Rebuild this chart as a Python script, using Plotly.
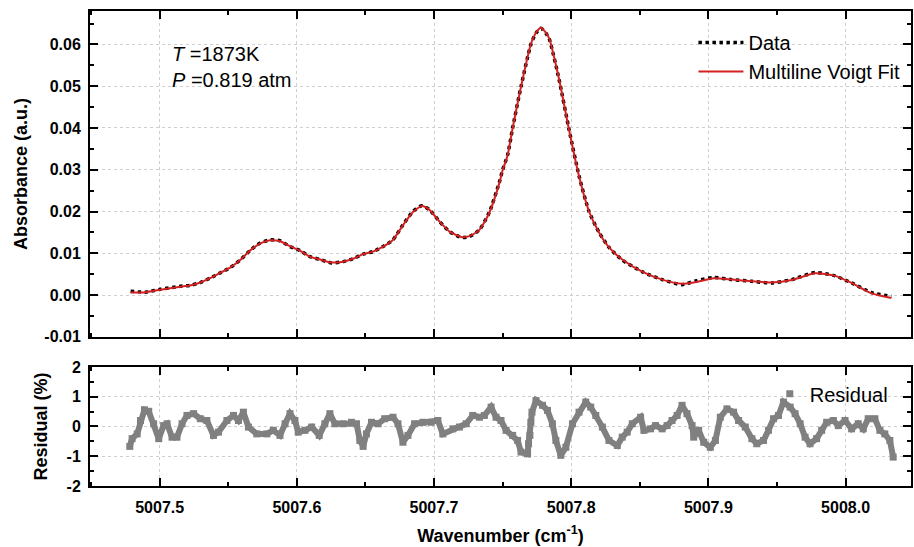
import plotly.graph_objects as go

# ---------------- data ----------------
wavenumber = [5007.4788, 5007.4896, 5007.5005, 5007.5150, 5007.5220, 5007.5296, 5007.5370,
              5007.5440, 5007.5510, 5007.5587, 5007.5660, 5007.5730, 5007.5804, 5007.5877,
              5007.5950, 5007.6020, 5007.6095, 5007.6170, 5007.6253, 5007.6337, 5007.6410,
              5007.6483, 5007.6555, 5007.6628, 5007.6700, 5007.6773, 5007.6846, 5007.6911,
              5007.6967, 5007.7040, 5007.7113, 5007.7198, 5007.7258, 5007.7330, 5007.7403,
              5007.7476, 5007.7500, 5007.7536, 5007.7573, 5007.7634, 5007.7706, 5007.7743,
              5007.7779, 5007.7815, 5007.7840, 5007.7912, 5007.7985, 5007.8058, 5007.8130,
              5007.8203, 5007.8276, 5007.8372, 5007.8517, 5007.8663, 5007.8808, 5007.8906,
              5007.9038, 5007.9172, 5007.9317, 5007.9462, 5007.9608, 5007.9778, 5007.9923,
              5008.0044, 5008.0190, 5008.0334]
absorbance_data = [0.0009, 0.0007, 0.0014, 0.0021, 0.0023, 0.0030, 0.0041,
                   0.0053, 0.0065, 0.0084, 0.0107, 0.0124, 0.0132, 0.0130,
                   0.0116, 0.0107, 0.0092, 0.0085, 0.0077, 0.0080, 0.0087,
                   0.0098, 0.0104, 0.0116, 0.0132, 0.0168, 0.0200, 0.0214,
                   0.0204, 0.0176, 0.0152, 0.0138, 0.0140, 0.0156, 0.0198,
                   0.0270, 0.0300, 0.0335, 0.0400, 0.0499, 0.0600, 0.0627,
                   0.0639, 0.0627, 0.0613, 0.0515, 0.0395, 0.0284, 0.0200,
                   0.0150, 0.0114, 0.0084, 0.0056, 0.0037, 0.0025, 0.0034,
                   0.0042, 0.0037, 0.0033, 0.0029, 0.0037, 0.0054, 0.0046,
                   0.0029, 0.0006, -0.0003]
absorbance_fit = [0.0006, 0.0007, 0.0013, 0.0020, 0.0023, 0.0030, 0.0041,
                  0.0053, 0.0065, 0.0084, 0.0107, 0.0123, 0.0131, 0.0129,
                  0.0117, 0.0107, 0.0092, 0.0085, 0.0078, 0.0080, 0.0087,
                  0.0098, 0.0104, 0.0116, 0.0132, 0.0167, 0.0199, 0.0213,
                  0.0204, 0.0176, 0.0152, 0.0139, 0.0141, 0.0156, 0.0197,
                  0.0268, 0.0299, 0.0334, 0.0400, 0.0499, 0.0601, 0.0628,
                  0.0640, 0.0628, 0.0614, 0.0516, 0.0394, 0.0283, 0.0200,
                  0.0150, 0.0114, 0.0085, 0.0056, 0.0037, 0.0027, 0.0031,
                  0.0040, 0.0037, 0.0033, 0.0030, 0.0036, 0.0052, 0.0046,
                  0.0029, 0.0004, -0.0007]

res_wavenumber = [5007.4782, 5007.4799, 5007.4836, 5007.4860, 5007.4889, 5007.4920, 5007.4956,
                  5007.4993, 5007.5029, 5007.5054, 5007.5090, 5007.5126, 5007.5163, 5007.5199,
                  5007.5247, 5007.5296, 5007.5344, 5007.5392, 5007.5429, 5007.5490, 5007.5538,
                  5007.5574, 5007.5610, 5007.5647, 5007.5708, 5007.5781, 5007.5828, 5007.5877,
                  5007.5914, 5007.5950, 5007.5986, 5007.6010, 5007.6059, 5007.6108, 5007.6163,
                  5007.6204, 5007.6241, 5007.6277, 5007.6337, 5007.6398, 5007.6435, 5007.6459,
                  5007.6483, 5007.6507, 5007.6544, 5007.6592, 5007.6640, 5007.6701, 5007.6737,
                  5007.6773, 5007.6810, 5007.6858, 5007.6919, 5007.6980, 5007.7028, 5007.7064,
                  5007.7137, 5007.7185, 5007.7234, 5007.7282, 5007.7331, 5007.7367, 5007.7416,
                  5007.7452, 5007.7488, 5007.7525, 5007.7573, 5007.7609, 5007.7634, 5007.7682,
                  5007.7689, 5007.7699, 5007.7706, 5007.7714, 5007.7743, 5007.7791, 5007.7827,
                  5007.7863, 5007.7888, 5007.7924, 5007.7961, 5007.8009, 5007.8057, 5007.8106,
                  5007.8142, 5007.8179, 5007.8227, 5007.8275, 5007.8336, 5007.8372, 5007.8408,
                  5007.8445, 5007.8506, 5007.8530, 5007.8578, 5007.8615, 5007.8663, 5007.8699,
                  5007.8735, 5007.8772, 5007.8808, 5007.8844, 5007.8881, 5007.8893, 5007.8929,
                  5007.8966, 5007.9014, 5007.9051, 5007.9087, 5007.9135, 5007.9184, 5007.9220,
                  5007.9269, 5007.9317, 5007.9353, 5007.9402, 5007.9438, 5007.9475, 5007.9511,
                  5007.9547, 5007.9596, 5007.9632, 5007.9669, 5007.9705, 5007.9741, 5007.9789,
                  5007.9826, 5007.9862, 5007.9911, 5007.9947, 5007.9996, 5008.0044, 5008.0092,
                  5008.0129, 5008.0165, 5008.0214, 5008.0250, 5008.0286, 5008.0323, 5008.0347]
residual = [-0.67, -0.41, -0.25, 0.20, 0.56, 0.51, 0.09,
            -0.41, 0.03, 0.09, -0.36, -0.36, 0.09, 0.37,
            0.43, 0.26, 0.20, -0.30, -0.19, 0.20, 0.37,
            0.20, 0.48, -0.02, -0.25, -0.25, -0.13, -0.30,
            0.09, 0.43, 0.20, -0.19, -0.13, -0.02, -0.30,
            0.09, 0.43, 0.09, 0.09, 0.14, 0.09, -0.47,
            -0.67, -0.25, 0.14, 0.09, 0.26, 0.31, 0.09,
            -0.53, -0.30, 0.09, 0.14, 0.14, 0.20, -0.25,
            -0.08, -0.02, 0.09, 0.37, 0.31, 0.37, 0.65,
            0.31, 0.20, -0.13, -0.30, -0.47, -0.86, -0.92,
            -0.58, -0.30, 0.14, 0.48, 0.87, 0.71, 0.54,
            0.09, -0.47, -0.97, -0.70, 0.09, 0.48, 0.82,
            0.65, 0.37, -0.02, -0.47, -0.64, -0.36, -0.19,
            0.09, 0.31, -0.13, -0.08, 0.03, -0.08, 0.03,
            0.20, 0.37, 0.71, 0.43, 0.03, -0.36, -0.13,
            -0.53, -0.70, -0.47, 0.31, 0.59, 0.48, 0.20,
            -0.02, -0.41, -0.58, -0.47, -0.13, 0.26, 0.37,
            0.82, 0.65, 0.43, 0.09, -0.36, -0.58, -0.41,
            -0.13, 0.14, 0.20, 0.03, 0.20, -0.08, 0.09,
            -0.08, 0.26, 0.26, -0.13, -0.25, -0.47, -1.03]

x_tickvals = [5007.5, 5007.6, 5007.7, 5007.8, 5007.9, 5008.0]
x_ticktext = ["5007.5", "5007.6", "5007.7", "5007.8", "5007.9", "5008.0"]
abs_tickvals = [-0.01, 0.0, 0.01, 0.02, 0.03, 0.04, 0.05, 0.06]
abs_ticktext = ["-0.01", "0.00", "0.01", "0.02", "0.03", "0.04", "0.05", "0.06"]
res_tickvals = [-2, -1, 0, 1, 2]
res_ticktext = ["-2", "-1", "0", "1", "2"]

# ---------------- styling ----------------
FONT = "Liberation Sans, Arial, sans-serif"
GRAY = "#808080"
RED = "#d42020"

fig = go.Figure()

fig.add_trace(go.Scatter(
    x=wavenumber, y=absorbance_data, name="Data", mode="lines",
    line=dict(color="black", width=3.5, dash="dot", shape="spline", smoothing=0.6),
    xaxis="x", yaxis="y", legend="legend"))
fig.add_trace(go.Scatter(
    x=wavenumber, y=absorbance_fit, name="Multiline Voigt Fit", mode="lines",
    line=dict(color=RED, width=2, shape="spline", smoothing=0.6),
    xaxis="x", yaxis="y", legend="legend"))

fig.add_trace(go.Scatter(
    x=res_wavenumber, y=residual, mode="lines", showlegend=False,
    line=dict(color=GRAY, width=6),
    xaxis="x2", yaxis="y2", hoverinfo="skip"))
fig.add_trace(go.Scatter(
    x=res_wavenumber, y=residual, name="Residual", mode="markers",
    marker=dict(color=GRAY, symbol="square", size=7, line=dict(width=0)),
    xaxis="x2", yaxis="y2", legend="legend2"))

tickfont = dict(family=FONT, size=16, color="black", weight="bold")
titlefont = dict(family=FONT, size=18, color="black", weight="bold")

common_axis = dict(
    showline=True, linecolor="black", linewidth=2, mirror="allticks",
    ticks="inside", ticklen=8, tickwidth=1.5, tickcolor="black",
    showgrid=True, gridcolor="#cfcfcf", griddash="dot", gridwidth=1,
    zeroline=False, tickfont=tickfont,
)

x_range = [5007.4492, 5008.0477]
minor_x = dict(tickmode="linear", tick0=5007.45, dtick=0.05, ticks="inside",
               ticklen=4, tickwidth=1.5, tickcolor="black", showgrid=False)

fig.update_layout(
    width=914, height=547,
    margin=dict(l=90, r=1, t=11, b=61),
    plot_bgcolor="white", paper_bgcolor="white",
    font=dict(family=FONT, color="black"),
    xaxis=dict(common_axis, domain=[0, 1], anchor="y", range=x_range,
               tickmode="array", tickvals=x_tickvals, ticktext=x_ticktext,
               showticklabels=False, minor=minor_x),
    yaxis=dict(common_axis, domain=[0.314, 1], anchor="x", range=[-0.01, 0.068],
               tickmode="array", tickvals=abs_tickvals, ticktext=abs_ticktext,
               ticklabelstandoff=4,
               title=dict(text="Absorbance (a.u.)", font=titlefont, standoff=12),
               minor=dict(tickmode="linear", tick0=0, dtick=0.005, ticks="inside",
                          ticklen=4, tickwidth=1.5, tickcolor="black", showgrid=False)),
    xaxis2=dict(common_axis, domain=[0, 1], anchor="y2", range=x_range, matches="x",
                tickmode="array", tickvals=x_tickvals, ticktext=x_ticktext,
                ticklabelstandoff=6,
                title=dict(text="Wavenumber (cm<sup>-1</sup>)", font=titlefont, standoff=14),
                minor=minor_x),
    yaxis2=dict(common_axis, domain=[0, 0.2507], anchor="x2", range=[-2, 2],
                tickmode="array", tickvals=res_tickvals, ticktext=res_ticktext,
                ticklabelstandoff=4,
                title=dict(text="Residual (%)", font=titlefont, standoff=14),
                minor=dict(tickmode="linear", tick0=0, dtick=0.5, ticks="inside",
                           ticklen=4, tickwidth=1.5, tickcolor="black", showgrid=False)),
    legend=dict(x=0.735, y=0.975, xanchor="left", yanchor="top", itemwidth=45,
                bgcolor="rgba(0,0,0,0)", font=dict(family=FONT, size=20, color="black"),
                tracegroupgap=0),
    legend2=dict(x=0.828, y=0.2353, xanchor="left", yanchor="top",
                 bgcolor="rgba(0,0,0,0)", font=dict(family=FONT, size=20, color="black")),
    annotations=[dict(
        text="<i>T</i> =1873K<br><i>P</i> =0.819 atm", xref="paper", yref="paper",
        x=0.0972, y=0.9368, xanchor="left", yanchor="top", align="left",
        showarrow=False, font=dict(family=FONT, size=20, color="black"))],
)

fig.write_html("out.html")
